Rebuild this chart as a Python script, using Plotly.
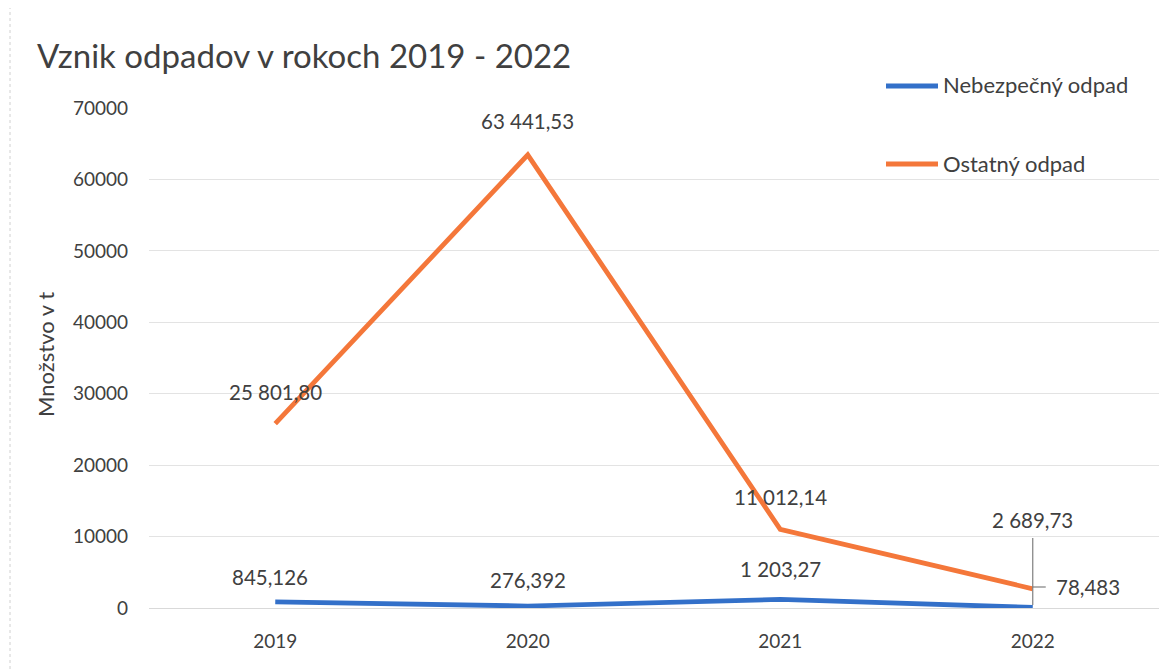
import plotly.graph_objects as go

years = ["2019", "2020", "2021", "2022"]
nebezpecny = [845.126, 276.392, 1203.27, 78.483]
ostatny = [25801.80, 63441.53, 11012.14, 2689.73]
neb_labels = ["845,126", "276,392", "1 203,27", "78,483"]
ost_labels = ["25 801,80", "63 441,53", "11 012,14", "2 689,73"]
series_names = ["Nebezpečný odpad", "Ostatný odpad"]
y_ticks = [0, 10000, 20000, 30000, 40000, 50000, 60000, 70000]

BLUE = "#3370c9"
ORANGE = "#f4773a"
TEXT = "#404040"
FONT = "Lato"

OFF = 8  # page body margin
W, H = 1176 - OFF, 672 - OFF
# target pixel positions in the screenshot
PL, PR, PT, PB = 149, 1159, 108, 608
L, T = PL - OFF, PT - OFF
R = W - (PR - OFF)
B = H - (PB - OFF)

def px_x(p):
    return (p - PL) / (PR - PL)

def px_y(p):
    return 1 - (p - PT) / (PB - PT)

fig = go.Figure()
fig.add_trace(go.Scatter(x=years, y=nebezpecny, mode="lines", name=series_names[0],
                         line=dict(color=BLUE, width=4.8), showlegend=False))
fig.add_trace(go.Scatter(x=years, y=ostatny, mode="lines", name=series_names[1],
                         line=dict(color=ORANGE, width=4.8), showlegend=False))

ann = []
LBL = 20.5
ost_shift = [(0, 32), (0, 34), (0, 32), (0, 69)]
neb_shift = [(-5, 25), (0, 26), (0, 30), (55, 20)]
for i in range(len(years)):
    dx, dy = ost_shift[i]
    ann.append(dict(x=i, y=ostatny[i], xref="x", yref="y", text=ost_labels[i],
                    showarrow=False, xshift=dx, yshift=dy,
                    font=dict(family=FONT, size=LBL, color=TEXT)))
    dx, dy = neb_shift[i]
    ann.append(dict(x=i, y=nebezpecny[i], xref="x", yref="y", text=neb_labels[i],
                    showarrow=False, xshift=dx, yshift=dy,
                    font=dict(family=FONT, size=LBL, color=TEXT)))

# title
ann.append(dict(x=px_x(35), y=px_y(55), xref="paper", yref="paper", xanchor="left",
                yanchor="middle", text="Vznik odpadov v rokoch 2019 - 2022",
                showarrow=False, font=dict(family=FONT, size=33, color=TEXT)))
# y axis title
ann.append(dict(x=px_x(45), y=px_y(355), xref="paper", yref="paper", textangle=-90,
                xanchor="center", yanchor="middle",
                text="Množstvo v t", showarrow=False,
                font=dict(family=FONT, size=22, color=TEXT)))
# legend texts
ann.append(dict(x=px_x(941), y=px_y(85), xref="paper", yref="paper", xanchor="left",
                yanchor="middle", text=series_names[0], showarrow=False,
                font=dict(family=FONT, size=22, color=TEXT)))
ann.append(dict(x=px_x(941), y=px_y(163), xref="paper", yref="paper", xanchor="left",
                yanchor="middle", text=series_names[1], showarrow=False,
                font=dict(family=FONT, size=22, color=TEXT)))

shapes = [
    dict(type="line", xref="paper", yref="paper", x0=px_x(886), x1=px_x(938),
         y0=px_y(86), y1=px_y(86), line=dict(color=BLUE, width=4.8)),
    dict(type="line", xref="paper", yref="paper", x0=px_x(886), x1=px_x(938),
         y0=px_y(164), y1=px_y(164), line=dict(color=ORANGE, width=4.8)),
    # leader lines at 2022
    dict(type="line", xref="x", yref="paper", x0=3, x1=3,
         y0=px_y(538), y1=px_y(605), line=dict(color="#7f7f7f", width=1.2)),
    dict(type="line", xref="x", yref="paper", xsizemode="pixel", xanchor=3,
         x0=0, x1=13, y0=px_y(587), y1=px_y(587),
         line=dict(color="#7f7f7f", width=1.2)),
    # faint chart border at left
    dict(type="line", xref="paper", yref="paper", x0=px_x(10), x1=px_x(10),
         y0=px_y(0), y1=px_y(672), line=dict(color="#d0d0d0", width=1, dash="dot")),
]

fig.update_layout(
    width=W, height=H,
    margin=dict(l=L, r=R, t=T, b=B),
    paper_bgcolor="white", plot_bgcolor="white",
    annotations=ann, shapes=shapes,
    showlegend=False,
    xaxis=dict(type="category", range=[-0.5, 3.5], showgrid=False, zeroline=False,
               showline=False, ticks="", ticklabelstandoff=20,
               tickfont=dict(family=FONT, size=19, color=TEXT)),
    yaxis=dict(range=[0, 70000], tickvals=y_ticks, ticktext=[str(v) for v in y_ticks],
               showgrid=True, gridcolor="#e3e3e3", gridwidth=1, zeroline=True,
               zerolinecolor="#d9d9d9", zerolinewidth=1, showline=False, ticks="",
               ticklabelstandoff=20, tickfont=dict(family=FONT, size=19, color=TEXT)),
)

fig.write_html("out.html")
